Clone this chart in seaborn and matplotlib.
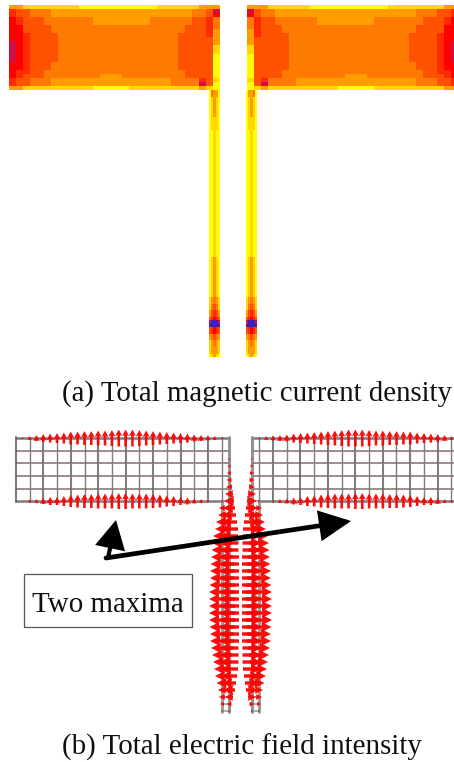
import numpy as np
import matplotlib
matplotlib.use("Agg")
import matplotlib.pyplot as plt
from matplotlib.colors import ListedColormap
from matplotlib.patches import Rectangle
import seaborn as sns

W, H = 454, 762
sns.set_theme(style="white")
plt.rcParams["font.family"] = ["Liberation Serif", "DejaVu Serif"]

# ---------- data: discretised current density levels ----------
LEVEL_COLORS = ["#ffff00", "#ffd800", "#ff9c00", "#ff7a00", "#ff5200", "#ff2a00", "#ff0000", "#3a20c0", "#d01040"]

PATCH_ROWS = [
    "221111111100000000000111111222",
    "544333" + "2" * 20 + "33" + "4" + "8",
    "544333" + "2" * 20 + "33" + "4" + "6",
    "65444" + "3" * 7 + "2" * 8 + "3" * 6 + "44" + "5" + "3",
    "65444" + "3" * 7 + "2" * 8 + "3" * 6 + "44" + "5" + "3",
    "664444" + "3" * 19 + "444" + "5" + "3",
    "664444" + "3" * 19 + "444" + "5" + "2",
    "665" + "4444" + "3" * 17 + "4444" + "5" + "2",
    "665" + "4444" + "3" * 17 + "4444" + "4" + "2",
    "865" + "4444" + "3" * 17 + "44444" + "2",
    "865" + "4444" + "3" * 17 + "44444" + "1",
    "865" + "4444" + "3" * 17 + "44444" + "1",
    "865" + "4444" + "3" * 17 + "44444" + "0",
    "865" + "4444" + "3" * 17 + "44444" + "0",
    "665" + "444" + "3" * 18 + "44444" + "0",
    "665" + "444" + "3" * 18 + "44444" + "0",
    "655" + "44" + "3" * 20 + "4444" + "0",
    "654" + "44" + "3" * 8 + "222" + "3" * 9 + "4444" + "0",
    "544" + "333" + "2" * 17 + "3333" + "5" + "4" + "1",
    "544" + "333" + "2" * 17 + "3333" + "8" + "4" + "0",
    "22" + "1" * 10 + "00000" + "1" * 10 + "210",
]

# rows of about 3.3 px along the feed strip, top to bottom
STRIP_ROWS = (
    ["032220"] * 2 + ["012210"] * 6 + ["011110"] * 4 + ["001100"] * 38 + ["012210"] * 12
    + ["123321"] * 2 + ["134431"] * 2 + ["245542"] * 2
    + ["456654", "877778", "777777"]
    + ["456654"] * 2 + ["234432"] * 2 + ["123321"] * 2 + ["122221"] * 2 + ["012210"] * 1
)

# electric field arrow lengths (px) along the long edges of the left patch
TOP_EDGE = [2, 4, 6, 8, 9, 10, 11, 13, 13, 14, 14, 15, 15, 16, 17, 17, 17, 16, 15, 14, 13, 12, 11, 10, 9, 7, 6, 5, 4, 2]
BOTTOM_EDGE = [1, 3, 4, 6, 8, 8, 10, 12, 13, 14, 14, 15, 15, 15, 16, 16, 15, 15, 15, 14, 13, 11, 10, 8, 7, 5, 4, 2, 1, 1]

# horizontal arrows along the feed (half lengths, px)
INNER_FEED = [0.5, 0.5, 1, 1.5, 2, 2.5, 3, 4, 5, 6, 7, 8, 9, 9, 9.5, 9.5, 10, 10, 10, 10, 10, 10, 10, 10,
              10, 10, 10, 10, 10, 9.5, 9.5, 9.5, 9, 8, 7, 6, 4, 2.5, 1]
OUTER_FEED = [1, 3, 4, 6, 7, 9, 10, 10.5, 11, 11.5, 12, 12, 12.5, 13, 13, 13, 13, 13, 12.5, 12, 12, 11, 10, 9, 8,
              7, 5.5, 4, 3, 2, 1]

CAPTION_A = "(a) Total magnetic current density"
CAPTION_B = "(b) Total electric field intensity"
NOTE = "Two maxima"

# ---------- figure ----------
fig = plt.figure(figsize=(W / 100, H / 100), dpi=100, facecolor="white")
cmap = ListedColormap(LEVEL_COLORS)


def heat(rows, x0, x1, y0, y1, mirror=False):
    data = np.array([[int(c) for c in r] for r in rows])
    if mirror:
        data = data[:, ::-1]
    a = fig.add_axes([x0 / W, 1 - y1 / H, (x1 - x0) / W, (y1 - y0) / H])
    sns.heatmap(data, ax=a, cmap=cmap, vmin=-0.5, vmax=8.5, cbar=False,
                xticklabels=False, yticklabels=False, linewidths=0, rasterized=True)
    a.set_axis_off()
    return a


heat(PATCH_ROWS, 9, 220, 5, 90)
heat(PATCH_ROWS, 247, 458, 5, 90, mirror=True)
heat(STRIP_ROWS, 209, 220, 90, 357)
heat(STRIP_ROWS, 246, 257, 90, 357, mirror=True)

ax = fig.add_axes([0, 0, 1, 1], zorder=5)
ax.set_xlim(0, W)
ax.set_ylim(H, 0)
ax.set_axis_off()
ax.patch.set_alpha(0)

AXIS = 240.5
GX = [16 + 13.72 * k for k in range(16)]
GY = [438, 451, 463, 476, 489, 501]
EDGE_X = [22.7 + 6.86 * k for k in range(30)]
FEED_Y_ALL = [445 + 7 * k for k in range(39)]
FEED_Y_OUT = [501 + 7 * k for k in range(31)]
GRID = "#5e5e5e"


def side(m):
    """m maps a left-side x to this side's x."""
    sgn = 1 if m(0) < m(1) else -1
    for i, x in enumerate(GX):
        ax.plot([m(x), m(x)], [437, 502], color=GRID, lw=1.0 if i % 2 else 1.5, alpha=0.8, zorder=1)
    for y in GY:
        xe = 222 if y == 501 else 229
        edge = y in (438, 501)
        ax.plot([m(16), m(xe)], [y, y], color=GRID, lw=1.8 if edge else 1.2, alpha=0.8, zorder=1)
    ax.plot([m(229), m(229)], [437, 712], color="#8a8a8a", lw=2.2, alpha=0.9, zorder=1)
    ax.plot([m(222), m(222)], [501, 712], color="#8a8a8a", lw=2.0, alpha=0.9, zorder=1)
    for y in FEED_Y_OUT:
        ax.plot([m(222), m(229)], [y, y], color="#8a8a8a", lw=1.2, alpha=0.8, zorder=1)

    # faint dots inside the patch
    xs = [m(x) for x in EDGE_X for _ in GY[1:-1]]
    ys = [y for _ in EDGE_X for y in GY[1:-1]]
    sns.scatterplot(x=xs, y=ys, ax=ax, color="#ff8080", s=2, linewidth=0, alpha=0.5, zorder=2, legend=False)

    kw = dict(angles="xy", scale_units="xy", scale=1, units="xy", pivot="mid", color="#ff0000",
              minlength=0, zorder=3, alpha=0.95)
    exs = [m(x) for x in EDGE_X]
    # vertical arrows, tips pointing up: the y axis runs downward
    vkw = dict(width=2.6, headwidth=2.7, headlength=2.5, headaxislength=2.2)
    ax.quiver(exs, [438] * 30, [0] * 30, -np.array(TOP_EDGE), **vkw, **kw)
    ax.quiver(exs, [501] * 30, [0] * 30, -np.array(BOTTOM_EDGE), **vkw, **kw)
    # horizontal arrows along the feed, pointing outward
    hkw = dict(width=3.4, headwidth=3.0, headlength=3.0, headaxislength=2.8)
    inner = 2 * np.array(INNER_FEED)
    outer = 2 * np.array(OUTER_FEED)
    ax.quiver([m(229)] * 39, FEED_Y_ALL, -sgn * inner, np.zeros(39), **hkw, **kw)
    ax.quiver([m(222)] * 31, FEED_Y_OUT, -sgn * outer, np.zeros(31), **hkw, **kw)


side(lambda x: x)
side(lambda x: 2 * AXIS - x)

# black annotation arrows
ax.annotate("", xy=(116, 520), xytext=(108, 558), zorder=6,
            arrowprops=dict(arrowstyle="-|>,head_length=1.6,head_width=0.85", mutation_scale=10,
                            lw=3.0, color="black", shrinkA=0, shrinkB=0, joinstyle="miter"))
ax.annotate("", xy=(351, 521), xytext=(106, 558), zorder=6,
            arrowprops=dict(arrowstyle="-|>,head_length=1.75,head_width=0.85", mutation_scale=10,
                            lw=3.4, color="black", shrinkA=0, shrinkB=0, joinstyle="miter"))

ax.add_patch(Rectangle((24, 574), 168, 53, fc="white", ec="#555555", lw=0.9, zorder=7))
ax.text(108, 612, NOTE, fontsize=20.9, ha="center", va="baseline", color="#111111", zorder=8)
ax.text(452, 401, CAPTION_A, fontsize=20.75, ha="right", va="baseline", color="#111111", zorder=8)
ax.text(62, 755, CAPTION_B, fontsize=20.9, ha="left", va="baseline", color="#111111", zorder=8)

fig.savefig("out.png", dpi=100)
